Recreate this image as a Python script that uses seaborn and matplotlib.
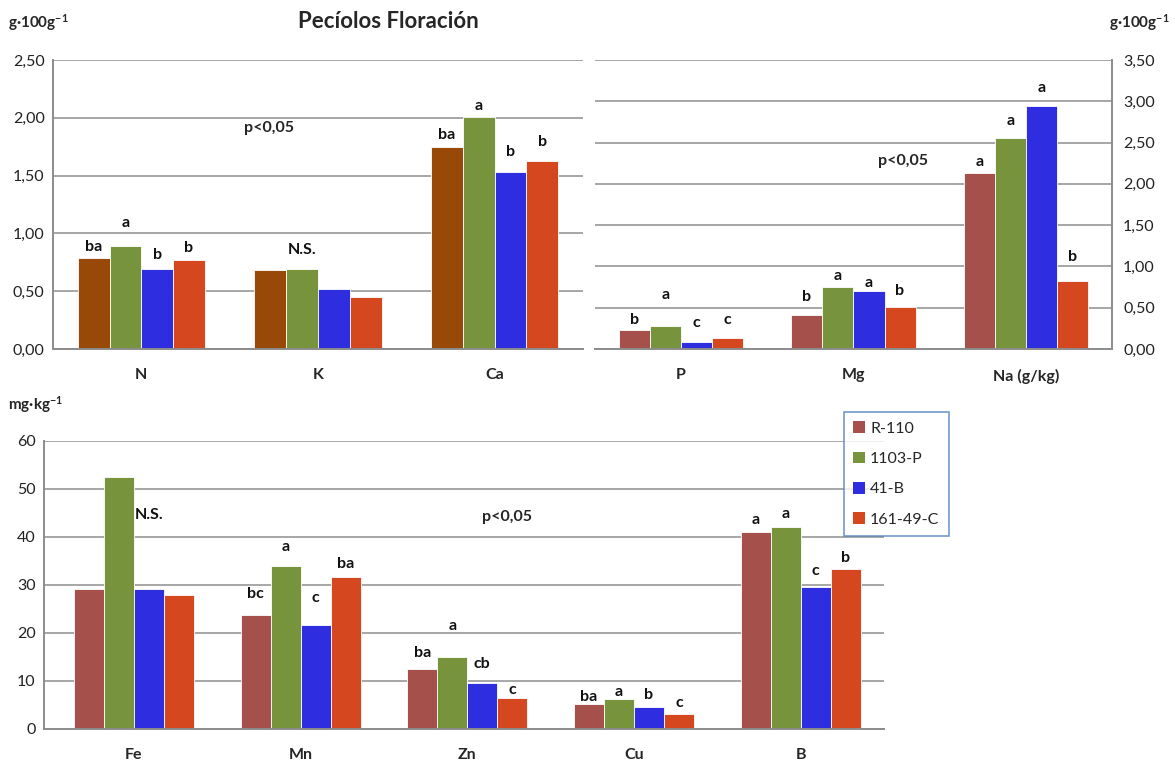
import numpy as np
import pandas as pd
import matplotlib
matplotlib.use("Agg")
import matplotlib.pyplot as plt
from matplotlib.patches import Patch
from matplotlib.ticker import FuncFormatter
import seaborn as sns

# Rootstocks (hue levels)
rootstocks = ["R-110", "1103-P", "41-B", "161-49-C"]

# Top-left panel: N, K, Ca (g/100g) - rows per element, cols per rootstock
tl_elements = ["N", "K", "Ca"]
tl_values = [[0.79, 0.89, 0.69, 0.77],
             [0.68, 0.69, 0.52, 0.45],
             [1.75, 2.01, 1.53, 1.63]]
tl_letters = [["ba", "a", "b", "b"],
              ["", "N.S.", "", ""],
              ["ba", "a", "b", "b"]]
tl_letter_y = [[0.88, 1.09, 0.81, 0.87],
               [0, 0.86, 0, 0],
               [1.85, 2.10, 1.70, 1.79]]

# Top-right panel: P, Mg, Na (g/100g, Na in g/kg)
tr_elements = ["P", "Mg", "Na (g/kg)"]
tr_values = [[0.23, 0.28, 0.09, 0.13],
             [0.41, 0.75, 0.70, 0.51],
             [2.13, 2.55, 2.94, 0.82]]
tr_letters = [["b", "a", "c", "c"],
              ["b", "a", "a", "b"],
              ["a", "a", "a", "b"]]
tr_letter_y = [[0.35, 0.65, 0.32, 0.35],
               [0.63, 0.88, 0.80, 0.70],
               [2.26, 2.76, 3.16, 1.11]]

# Bottom panel: micronutrients (mg/kg)
bt_elements = ["Fe", "Mn", "Zn", "Cu", "B"]
bt_values = [[29.2, 52.5, 29.2, 28.0],
             [23.8, 34.0, 21.7, 31.7],
             [12.6, 15.0, 9.6, 6.5],
             [5.3, 6.2, 4.6, 3.2],
             [41.0, 42.0, 29.5, 33.4]]
bt_letters = [["", "", "N.S.", ""],
              ["bc", "a", "c", "ba"],
              ["ba", "a", "cb", "c"],
              ["ba", "a", "b", "c"],
              ["a", "a", "c", "b"]]
bt_letter_y = [[0, 0, 44.6, 0],
               [28.1, 37.9, 27.3, 34.3],
               [15.8, 21.5, 13.5, 8.1],
               [6.7, 7.7, 7.1, 5.4],
               [43.5, 44.8, 33.0, 35.6]]

colors_main = ["#A5504A", "#77933C", "#2E2EE0", "#D4471F"]
colors_tl = ["#984807", "#77933C", "#2E2EE0", "#D4471F"]
grid_col = "#A6A6A6"

sns.set_style("white")
plt.rcParams["font.family"] = ["Lato", "DejaVu Sans"]
plt.rcParams["mathtext.default"] = "regular"


def to_long(elements, values):
    rows = []
    for el, vals in zip(elements, values):
        for rs, v in zip(rootstocks, vals):
            rows.append({"element": el, "rootstock": rs, "value": v})
    return pd.DataFrame(rows)


def draw_panel(ax, elements, values, letters, letter_y, palette, ymax, step, fmt, xlim):
    df = to_long(elements, values)
    sns.barplot(data=df, x="element", y="value", hue="rootstock",
                hue_order=rootstocks, palette=palette, width=0.72,
                saturation=1, edgecolor="white", linewidth=0.6,
                legend=False, ax=ax)
    ax.set_ylim(0, ymax)
    ax.set_xlim(*xlim)
    ax.set_yticks(np.arange(0, ymax + step / 2, step))
    ax.yaxis.set_major_formatter(FuncFormatter(fmt))
    ax.grid(axis="y", color=grid_col, linewidth=1.4)
    ax.set_axisbelow(True)
    ax.set_xlabel("")
    ax.set_ylabel("")
    ax.tick_params(axis="y", length=0, labelsize=11.5, pad=6, colors="#222222")
    ax.tick_params(axis="x", length=0, pad=14)
    for lab in ax.get_xticklabels():
        lab.set_fontweight("bold")
        lab.set_fontsize(11.5)
    for sp in ax.spines.values():
        sp.set_visible(False)
    ax.spines["bottom"].set_visible(True)
    ax.spines["bottom"].set_color("#8C8C8C")
    ax.spines["bottom"].set_linewidth(1.4)
    # significance letters
    for j, cont in enumerate(ax.containers):
        for i, bar in enumerate(cont):
            txt = letters[i][j]
            if txt:
                xc = bar.get_x() + bar.get_width() / 2
                ax.text(xc, letter_y[i][j], txt, ha="center", va="center",
                        fontsize=11.5, fontweight="bold", color="#111111")


fig = plt.figure(figsize=(11.75, 7.65), dpi=100)

ax_tl = fig.add_axes([53 / 1175, 1 - 349 / 765, 530 / 1175, 289 / 765])
ax_tr = fig.add_axes([595 / 1175, 1 - 349 / 765, 517 / 1175, 289 / 765])
ax_bt = fig.add_axes([44 / 1175, 1 - 729 / 765, 840 / 1175, 288 / 765])

dec2 = lambda v, p: f"{v:.2f}".replace(".", ",")
draw_panel(ax_tl, tl_elements, tl_values, tl_letters, tl_letter_y,
           colors_tl, 2.5, 0.5, dec2, (-0.5, 2.5))
draw_panel(ax_tr, tr_elements, tr_values, tr_letters, tr_letter_y,
           colors_main, 3.5, 0.5, dec2, (-0.5, 2.5))
draw_panel(ax_bt, bt_elements, bt_values, bt_letters, bt_letter_y,
           colors_main, 60, 10, lambda v, p: f"{v:.0f}", (-0.54, 4.5))

ax_tl.spines["left"].set_visible(True)
ax_tl.spines["left"].set_color("#8C8C8C")
ax_tl.spines["left"].set_linewidth(1.4)
ax_bt.spines["left"].set_visible(True)
ax_bt.spines["left"].set_color("#8C8C8C")
ax_bt.spines["left"].set_linewidth(1.4)
ax_tr.spines["right"].set_visible(True)
ax_tr.spines["right"].set_color("#8C8C8C")
ax_tr.spines["right"].set_linewidth(1.4)
ax_tr.yaxis.tick_right()
ax_tr.tick_params(axis="y", length=0, pad=8)

# p-value notes
ax_tl.text(0.72, 1.91, "p<0,05", ha="center", va="center",
           fontsize=11.5, fontweight="bold")
ax_tr.text(1.29, 2.28, "p<0,05", ha="center", va="center",
           fontsize=11.5, fontweight="bold")
ax_bt.text(2.24, 44.2, "p<0,05", ha="center", va="center",
           fontsize=11.5, fontweight="bold")

# titles and units
fig.text(388 / 1175, 1 - 22 / 765, "Pecíolos Floración", ha="center",
         va="center", fontsize=16, fontweight="bold")
fig.text(8 / 1175, 1 - 23 / 765, r"g·100g$^{-1}$", ha="left", va="center",
         fontsize=11, fontweight="bold")
fig.text(1170 / 1175, 1 - 23 / 765, r"g·100g$^{-1}$", ha="right",
         va="center", fontsize=11, fontweight="bold")
fig.text(8 / 1175, 1 - 405 / 765, r"mg·kg$^{-1}$", ha="left", va="center",
         fontsize=11, fontweight="bold")

# legend
handles = [Patch(facecolor=c, edgecolor="none") for c in colors_main]
leg = fig.legend(handles, rootstocks, loc="upper left",
                 bbox_to_anchor=(844 / 1175, 1 - 412 / 765),
                 frameon=True, fancybox=False, fontsize=11.5,
                 handlelength=0.75, handleheight=0.75, handletextpad=0.3,
                 labelspacing=1.0, borderpad=0.58, borderaxespad=0)
leg.get_frame().set_edgecolor("#4F81BD")
leg.get_frame().set_linewidth(1.2)

fig.savefig("out.png", dpi=100)
